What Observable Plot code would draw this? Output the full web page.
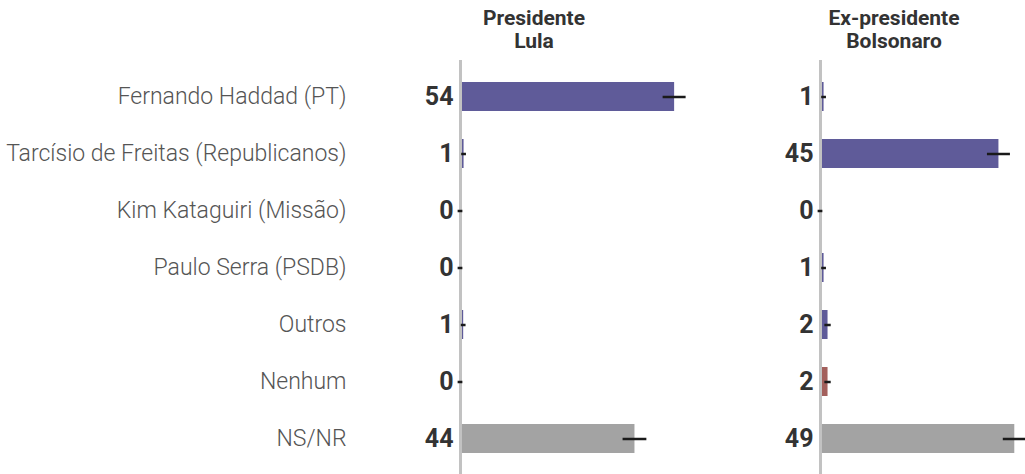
<!DOCTYPE html>
<html>
<head>
<meta charset="utf-8">
<script src="https://cdn.jsdelivr.net/npm/d3@7"></script>
<script src="https://cdn.jsdelivr.net/npm/@observablehq/plot@0.6"></script>
<style>
  html, body { margin: 0; padding: 0; background: #fff; }
  #chart { width: 1025px; height: 474px; }
  #chart g[aria-label="y-axis tick label"] text { font-family: "Roboto Light", Roboto, sans-serif; font-weight: 300; }
</style>
</head>
<body>
<div id="chart"></div>
<script>
const categories = [
  "Fernando Haddad (PT)",
  "Tarcísio de Freitas (Republicanos)",
  "Kim Kataguiri (Missão)",
  "Paulo Serra (PSDB)",
  "Outros",
  "Nenhum",
  "NS/NR"
];
const panels = ["Presidente Lula", "Ex-presidente Bolsonaro"];
const panelHeaders = ["Presidente\nLula", "Ex-presidente\nBolsonaro"];
const lulaValues = [54, 0.9, 0, 0, 0.8, 0, 44];
const lulaErrors = [2.9, 0.6, 0.6, 0.6, 0.6, 0.6, 3.0];
const bolsonaroValues = [0.9, 45, 0, 0.9, 1.9, 1.9, 49];
const bolsonaroErrors = [0.6, 2.9, 0.6, 0.6, 0.8, 0.8, 2.9];
const groups = ["candidato", "candidato", "candidato", "candidato", "candidato", "nenhum", "nsnr"];
const groupColors = {candidato: "#5f5b99", nenhum: "#a3605c", nsnr: "#a3a3a3"};

const rows = [];
[lulaValues, bolsonaroValues].forEach((vals, p) => {
  const errs = p === 0 ? lulaErrors : bolsonaroErrors;
  categories.forEach((c, i) => {
    rows.push({panel: panels[p], cat: c, value: vals[i], err: errs[i], group: groups[i]});
  });
});

const chart = Plot.plot({
  width: 1025,
  height: 474,
  marginLeft: 460,
  marginRight: 0,
  marginTop: 66,
  marginBottom: 5.5,
  style: {fontFamily: "Roboto", background: "#fff"},
  fx: {domain: panels, paddingInner: 0.431, paddingOuter: 0, axis: null},
  x: {domain: [0, 51.7], axis: null},
  y: {domain: categories, paddingInner: 0.5, paddingOuter: 0.25, axis: null},
  marks: [
    Plot.barX(rows, {
      fx: "panel", y: "cat", x: "value",
      fill: d => groupColors[d.group]
    }),
    Plot.ruleX([0], {stroke: "#c2c2c2", strokeWidth: 3, insetTop: -6, insetBottom: -5.5}),
    Plot.ruleY(rows, {
      fx: "panel", y: "cat",
      x1: d => d.value - d.err, x2: d => d.value + d.err,
      stroke: "#1a1a1a", strokeWidth: 2.5
    }),
    Plot.text(rows, {
      fx: "panel", y: "cat", frameAnchor: "left",
      text: d => String(Math.round(d.value)),
      dx: -7, textAnchor: "end",
      fontSize: 25, fontWeight: 700, fill: "#333"
    }),
    Plot.axisY({
      tickSize: 0, tickPadding: 114, label: null,
      fontSize: 23, fill: "#555"
    }),
    Plot.axisFx({
      anchor: "top", tickSize: 0, tickPadding: 19, label: null,
      tickFormat: d => panelHeaders[panels.indexOf(d)],
      fontSize: 21, fontWeight: 700, fill: "#333", lineHeight: 1.05, dx: -29
    })
  ]
});
document.getElementById("chart").appendChild(chart);
</script>
</body>
</html>
